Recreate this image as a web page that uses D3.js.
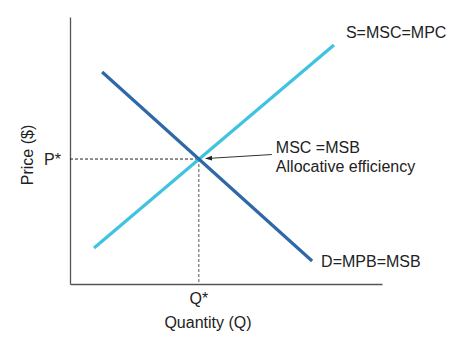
<!DOCTYPE html>
<html><head><meta charset="utf-8">
<script src="https://cdn.jsdelivr.net/npm/d3@7"></script>
<style>
html,body{margin:0;padding:0;background:#fff;}
text{font-family:"Liberation Sans",Arial,Helvetica,sans-serif;font-size:16px;fill:#222;}
</style></head>
<body><svg id="c" width="462" height="347"></svg>
<script>
// Data (quantity, price) in abstract units 0..10
const supplyQ = [0.77, 8.46];
const supplyP = [1.35, 8.95];
const demandQ = [1.03, 7.76];
const demandP = [7.94, 0.86];
const equilibrium = {q: 4.13, p: 4.68};
const supplyLabel = "S=MSC=MPC";
const demandLabel = "D=MPB=MSB";
const annotationLines = ["MSC =MSB", "Allocative efficiency"];
const xTitle = "Quantity (Q)";
const yTitle = "Price ($)";
const qLabel = "Q*";
const pLabel = "P*";

const svg = d3.select("#c");
const x = d3.scaleLinear().domain([0, 10]).range([70, 382]);
const y = d3.scaleLinear().domain([0, 10]).range([284, 17]);

svg.append("defs").append("marker")
  .attr("id","arr").attr("viewBox","0 0 10 10").attr("refX",9).attr("refY",5)
  .attr("markerWidth",7).attr("markerHeight",7).attr("orient","auto-start-reverse")
  .append("path").attr("d","M0,1.5L10,5L0,8.5Z").attr("fill","#222");

// axes
const gx = svg.append("g").attr("transform", `translate(0,${y(0)})`)
  .call(d3.axisBottom(x).tickValues([]).tickSizeOuter(0));
const gy = svg.append("g").attr("transform", `translate(${x(0)},0)`)
  .call(d3.axisLeft(y).tickValues([]).tickSizeOuter(0));
svg.selectAll(".domain").attr("stroke","#555").attr("stroke-width",1.3);

// dashed guides
svg.append("line").attr("x1", x(0)).attr("x2", x(equilibrium.q))
  .attr("y1", y(equilibrium.p)).attr("y2", y(equilibrium.p))
  .attr("stroke","#222").attr("stroke-width",1).attr("stroke-dasharray","3,2");
svg.append("line").attr("x1", x(equilibrium.q)).attr("x2", x(equilibrium.q))
  .attr("y1", y(equilibrium.p)).attr("y2", y(0))
  .attr("stroke","#555").attr("stroke-width",1).attr("stroke-dasharray","3,2");

const line = d3.line().x(d => x(d[0])).y(d => y(d[1]));
svg.append("path").datum(supplyQ.map((q,i)=>[q, supplyP[i]]))
  .attr("d", line).attr("fill","none").attr("stroke","#3fc3e0").attr("stroke-width",3.2);
svg.append("path").datum(demandQ.map((q,i)=>[q, demandP[i]]))
  .attr("d", line).attr("fill","none").attr("stroke","#2f68a6").attr("stroke-width",3.2);

// labels
svg.append("text").attr("x", x(supplyQ[1]) + 12).attr("y", y(supplyP[1]) - 7).text(supplyLabel);
svg.append("text").attr("x", x(demandQ[1]) + 9).attr("y", y(demandP[1]) + 5.5).text(demandLabel);

svg.append("text").attr("x", x(equilibrium.q) + 77).attr("y", y(equilibrium.p) - 6.5).text(annotationLines[0]);
svg.append("text").attr("x", x(equilibrium.q) + 77).attr("y", y(equilibrium.p) + 12.5).text(annotationLines[1]);
svg.append("line").attr("x1", x(equilibrium.q) + 73).attr("y1", y(equilibrium.p) - 4.5)
  .attr("x2", x(equilibrium.q) + 7).attr("y2", y(equilibrium.p) - 0.5)
  .attr("stroke","#333").attr("stroke-width",1).attr("marker-end","url(#arr)");

svg.append("text").attr("x", x(0) - 9).attr("y", y(equilibrium.p) + 6).attr("text-anchor","end").text(pLabel);
svg.append("text").attr("x", x(equilibrium.q)).attr("y", y(0) + 20).attr("text-anchor","middle").text(qLabel);
svg.append("text").attr("x", 208).attr("y", 328).attr("text-anchor","middle").text(xTitle);
svg.append("text").attr("transform","translate(33,155) rotate(-90)").attr("text-anchor","middle").text(yTitle);
</script></body></html>
